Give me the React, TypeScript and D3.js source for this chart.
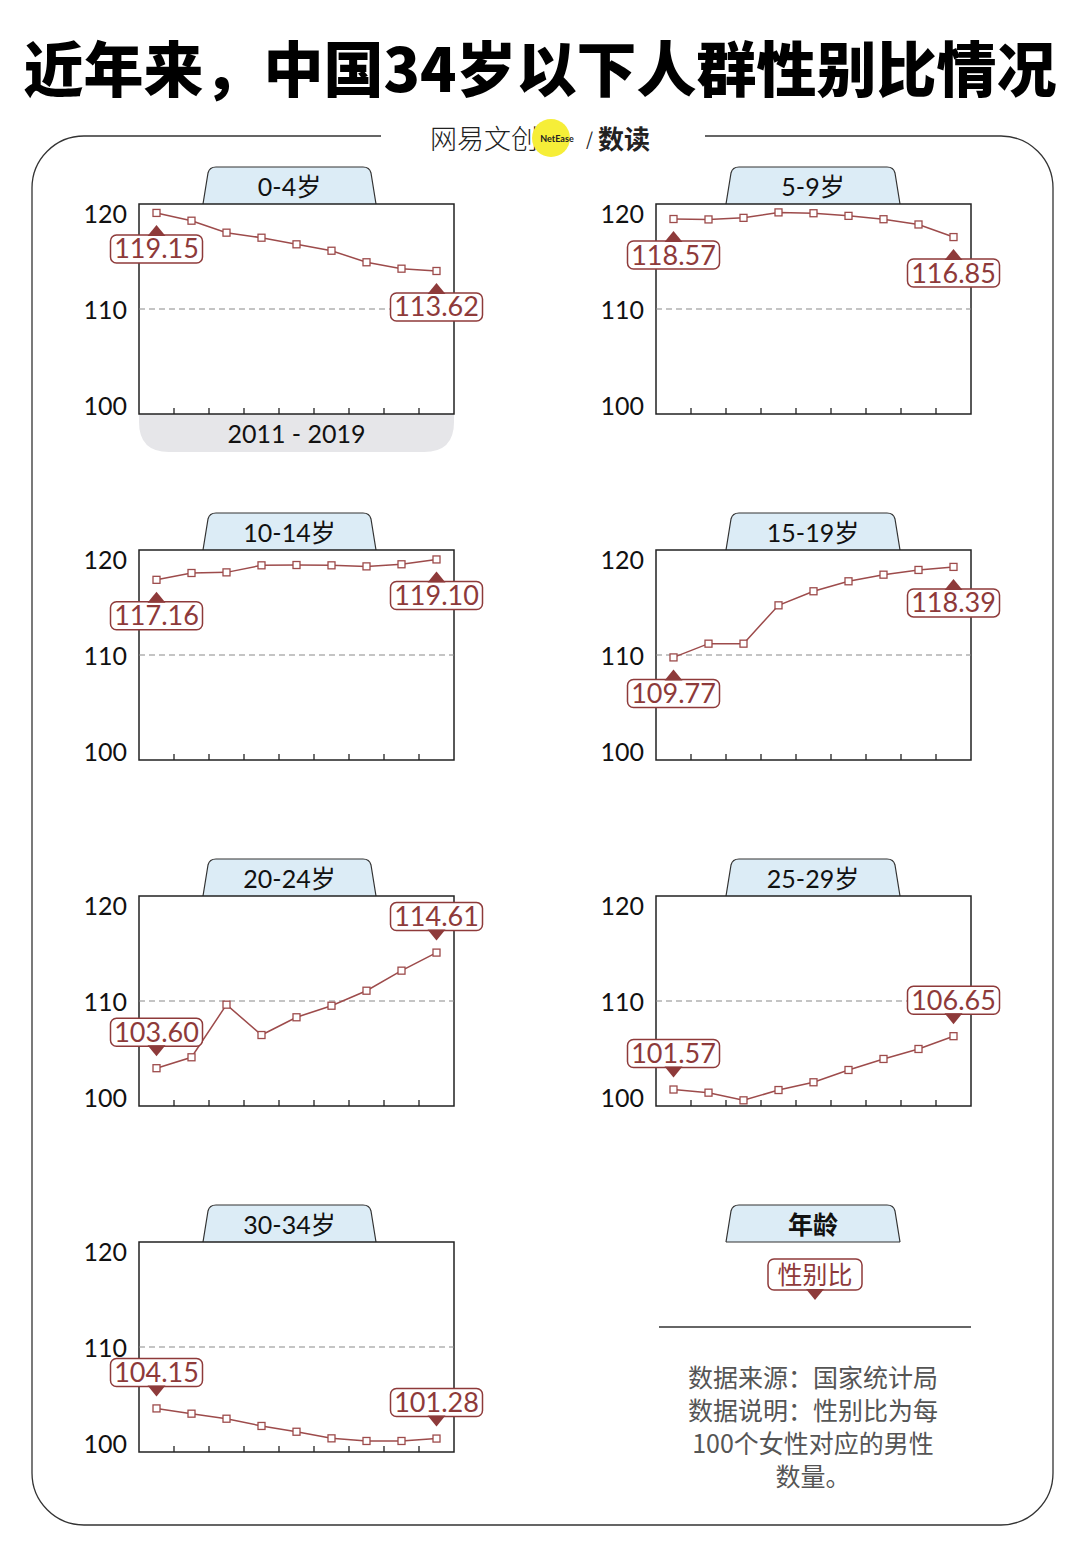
import React from 'react';
import * as d3 from 'd3';

// years on the x axis (one point per year)
const years = ['2011', '2012', '2013', '2014', '2015', '2016', '2017', '2018', '2019'];

// age groups, one small chart each
const ageGroups = ['0-4岁', '5-9岁', '10-14岁', '15-19岁', '20-24岁', '25-29岁', '30-34岁'];

// sex ratio (males per 100 females)
const ratio0to4 = [119.15, 118.41, 117.27, 116.79, 116.16, 115.55, 114.45, 113.84, 113.62];
const ratio5to9 = [118.57, 118.53, 118.68, 119.2, 119.12, 118.87, 118.55, 118.05, 116.85];
const ratio10to14 = [117.16, 117.81, 117.87, 118.54, 118.57, 118.54, 118.44, 118.64, 119.1];
const ratio15to19 = [109.77, 111.08, 111.08, 114.73, 116.07, 117.02, 117.65, 118.1, 118.39];
const ratio20to24 = [103.6, 104.64, 109.65, 106.76, 108.45, 109.55, 110.98, 112.89, 114.61];
const ratio25to29 = [101.57, 101.27, 100.54, 101.52, 102.26, 103.43, 104.48, 105.43, 106.65];
const ratio30to34 = [104.15, 103.65, 103.17, 102.48, 101.93, 101.3, 101.05, 101.05, 101.28];

const series = [ratio0to4, ratio5to9, ratio10to14, ratio15to19, ratio20to24, ratio25to29, ratio30to34];

const yTicks = [120, 110, 100];

const title = '近年来，中国34岁以下人群性别比情况';
const notes = ['数据来源：国家统计局', '数据说明：性别比为每', '100个女性对应的男性', '数量。'];

const RED = '#8e3a3a';
const LINE = '#9d4b4b';
const DARK = '#222';
const FONT = "Lato, 'Noto Sans CJK SC', sans-serif";
const CJK = "'Noto Sans CJK SC', sans-serif";

const W = 1080;
const H = 1567;
const plotW = 315;
const plotH = 210;
const colX = [139, 656];
const rowY = [204, 550, 896, 1242];

// tab shape above a panel (trapezoid with rounded top corners)
const tabPath = (x0: number, x1: number, bottom: number, h: number) => {
  const top = bottom - h;
  return `M${x0},${bottom} L${x0 + 5},${top + 6} Q${x0 + 6.5},${top} ${x0 + 13},${top} L${x1 - 13},${top} Q${x1 - 6.5},${top} ${x1 - 5},${top + 6} L${x1},${bottom}`;
};

// rounded value label with a small pointer triangle
const ValueLabel: React.FC<{ x: number; y: number; text: string; below: boolean; fontSize?: number; w?: number; h?: number }> = ({ x, y, text, below, fontSize = 27, w = 92, h = 28 }) => {
  const gap = 12;
  const boxTop = below ? y + gap + 10 : y - gap - 10 - h;
  const apex = below ? y + gap : y - gap;
  const base = below ? boxTop + 1 : boxTop + h - 1;
  return (
    <g>
      <rect x={x - w / 2} y={boxTop} width={w} height={h} rx={6} fill="white" stroke={RED} strokeWidth={1.5} />
      <path d={`M${x - 9},${base} L${x},${apex} L${x + 9},${base} Z`} fill={RED} />
      <text x={x} y={boxTop + h / 2 - 1} textAnchor="middle" dominantBaseline="central" fontSize={fontSize} fill={RED} fontFamily={FONT}>
        {text}
      </text>
    </g>
  );
};

const Panel: React.FC<{ name: string; values: number[]; left: number; top: number; col: number; showYears: boolean }> = ({ name, values, left, top, col, showYears }) => {
  const x = d3.scaleBand<string>().domain(years).range([0, plotW]);
  const y = d3.scaleLinear().domain([100, 120]).range([plotH, 0]);
  const cx = (i: number) => (x(years[i]) ?? 0) + x.bandwidth() / 2;
  const line = d3.line<number>().x((_, i) => cx(i)).y(d => y(d));
  const below = d3.mean(values)! > 110;
  const last = values.length - 1;
  const tab0 = col === 0 ? 64 : 70;
  const tab1 = col === 0 ? 237 : 244;

  return (
    <g transform={`translate(${left},${top})`}>
      <path d={tabPath(tab0, tab1, 0, 37)} fill="#dcecf6" stroke="#333" strokeWidth={1.2} />
      <text x={(tab0 + tab1) / 2} y={-18} textAnchor="middle" dominantBaseline="central" fontSize={25} fill="#111" fontFamily={FONT}>
        {name}
      </text>
      {showYears && (
        <g>
          <path d={`M0,${plotH} L${plotW},${plotH} L${plotW},${plotH + 8} Q${plotW},${plotH + 38} ${plotW - 30},${plotH + 38} L30,${plotH + 38} Q0,${plotH + 38} 0,${plotH + 8} Z`} fill="#e6e6e9" />
          <text x={plotW / 2} y={plotH + 19} textAnchor="middle" dominantBaseline="central" fontSize={25} fill="#111" fontFamily={FONT}>
            {`${years[0]} - ${years[years.length - 1]}`}
          </text>
        </g>
      )}
      <rect x={0} y={0} width={plotW} height={plotH} fill="white" stroke={DARK} strokeWidth={1.5} />
      <line x1={0} x2={plotW} y1={y(110)} y2={y(110)} stroke="#8a8a8a" strokeWidth={1.2} strokeDasharray="6 4" />
      {years.slice(1).map(yr => (
        <line key={yr} x1={x(yr)} x2={x(yr)} y1={plotH} y2={plotH - 6} stroke={DARK} strokeWidth={1.3} />
      ))}
      {yTicks.map(t => (
        <text
          key={t}
          x={-12}
          y={t === 120 ? y(t) + 9 : t === 100 ? y(t) - 9 : y(t)}
          textAnchor="end"
          dominantBaseline="central"
          fontSize={25}
          fill="#111"
          fontFamily={FONT}
        >
          {t}
        </text>
      ))}
      <path d={line(values) ?? ''} fill="none" stroke={LINE} strokeWidth={1.5} />
      {values.map((v, i) => (
        <rect key={i} x={cx(i) - 3.5} y={y(v) - 3.5} width={7} height={7} fill="white" stroke={LINE} strokeWidth={1.3} />
      ))}
      <ValueLabel x={cx(0)} y={y(values[0])} text={values[0].toFixed(2)} below={below} />
      <ValueLabel x={cx(last)} y={y(values[last])} text={values[last].toFixed(2)} below={below} />
    </g>
  );
};

const App: React.FC = () => {
  return (
    <svg width={W} height={H} style={{ position: 'absolute', left: 0, top: 0, background: 'white' }}>
      <rect width={W} height={H} fill="white" />
      <text x={W / 2} y={65} textAnchor="middle" dominantBaseline="central" fontSize={60} fontWeight={900} fill="#000" fontFamily={CJK}>
        {title}
      </text>

      {/* card outline, broken at the top for the logo */}
      <rect x={32} y={136} width={1021} height={1389} rx={52} fill="none" stroke="#333" strokeWidth={1.3} />
      <rect x={381} y={126} width={324} height={20} fill="white" />

      {/* logo */}
      <g fontFamily={CJK}>
        <text x={430} y={137} dominantBaseline="central" fontSize={27} fontWeight={300} fill="#222">网易文创</text>
        <circle cx={551} cy={138} r={19} fill="#f6ee38" />
        <text x={557} y={138} textAnchor="middle" dominantBaseline="central" fontSize={9} fontWeight={700} fill="#222" fontFamily={FONT}>NetEase</text>
        <text x={586} y={138} dominantBaseline="central" fontSize={18} fill="#222">/</text>
        <text x={598} y={137} dominantBaseline="central" fontSize={26} fontWeight={700} fill="#222">数读</text>
      </g>

      {ageGroups.map((g, i) => (
        <Panel
          key={g}
          name={g}
          values={series[i]}
          col={i % 2}
          left={colX[i % 2]}
          top={rowY[Math.floor(i / 2)]}
          showYears={i === 0}
        />
      ))}

      {/* legend */}
      <g transform={`translate(${colX[1]},${rowY[3]})`}>
        <path d={tabPath(70, 244, 0, 37)} fill="#dcecf6" stroke="#333" strokeWidth={1.2} />
        <line x1={70} x2={244} y1={0} y2={0} stroke="#333" strokeWidth={1.2} />
        <text x={157} y={-19} textAnchor="middle" dominantBaseline="central" fontSize={25} fontWeight={700} fill="#111" fontFamily={CJK}>
          年龄
        </text>
        <ValueLabel x={159} y={70} text="性别比" below={false} fontSize={25} w={94} h={31} />
        <line x1={3} x2={315} y1={85} y2={85} stroke="#333" strokeWidth={1.5} />
        {notes.map((n, i) => (
          <text key={n} x={157} y={134 + i * 33} textAnchor="middle" dominantBaseline="central" fontSize={25} fill="#555" fontFamily={CJK}>
            {n}
          </text>
        ))}
      </g>
    </svg>
  );
};

export default App;
